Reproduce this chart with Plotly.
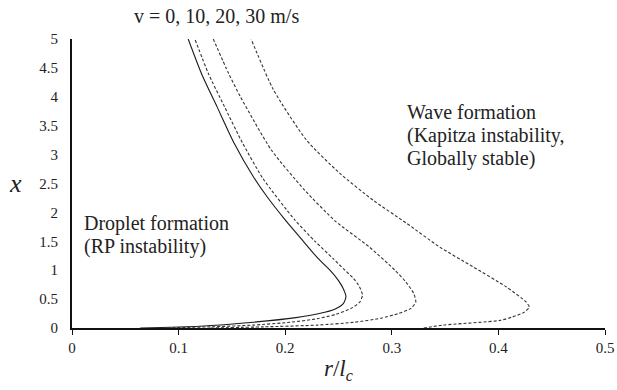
import plotly.graph_objects as go

# v = 0 m/s (solid)
r_v0 = [0.064, 0.12, 0.17, 0.210, 0.232, 0.247, 0.2545, 0.257, 0.2545, 0.250, 0.242, 0.231, 0.217, 0.200, 0.183, 0.170, 0.152, 0.136, 0.1215, 0.109]
x_v0 = [0.0, 0.03, 0.10, 0.18, 0.25, 0.33, 0.42, 0.54, 0.68, 0.82, 1.0, 1.2, 1.5, 1.87, 2.27, 2.62, 3.2, 3.83, 4.4, 5.0]
# v = 10 m/s
r_v10 = [0.08, 0.13, 0.17, 0.205, 0.23, 0.248, 0.262, 0.270, 0.2725, 0.2695, 0.264, 0.256, 0.245, 0.228, 0.209, 0.179, 0.160, 0.143, 0.128, 0.1153]
x_v10 = [0.0, 0.02, 0.05, 0.10, 0.16, 0.24, 0.34, 0.45, 0.57, 0.72, 0.86, 1.0, 1.2, 1.5, 1.87, 2.59, 3.2, 3.83, 4.4, 5.0]
# v = 20 m/s
r_v20 = [0.13, 0.18, 0.23, 0.265, 0.29, 0.306, 0.318, 0.3225, 0.3205, 0.313, 0.303, 0.279, 0.247, 0.218, 0.187, 0.158, 0.147, 0.1325]
x_v20 = [0.0, 0.02, 0.05, 0.10, 0.17, 0.25, 0.34, 0.45, 0.60, 0.80, 1.0, 1.40, 1.85, 2.39, 3.08, 4.0, 4.4, 5.0]
# v = 30 m/s
r_v30 = [0.33, 0.348, 0.401, 0.413, 0.424, 0.429, 0.426, 0.4075, 0.376, 0.345, 0.314, 0.2825, 0.251, 0.220, 0.189, 0.168]
x_v30 = [0.0, 0.05, 0.13, 0.19, 0.27, 0.36, 0.45, 0.71, 1.06, 1.40, 1.81, 2.21, 2.68, 3.25, 4.12, 5.0]

x_ticks = [0, 0.1, 0.2, 0.3, 0.4, 0.5]
y_ticks = [0, 0.5, 1, 1.5, 2, 2.5, 3, 3.5, 4, 4.5, 5]

title_text = "v = 0, 10, 20, 30 m/s"
wave_lines = ["Wave formation", "(Kapitza instability,", "Globally stable)"]
drop_lines = ["Droplet formation", "(RP instability)"]

serif = "Liberation Serif, Times New Roman, serif"
ink = "#222"

# plot area in screenshot pixels
L, R, T, B = 72, 605, 39, 328
W, H = 617, 390

def px(xp):
    return (xp - L) / (R - L)

def py(yp):
    return (B - yp) / (B - T)

fig = go.Figure()
series = [(r_v0, x_v0, "solid", "#1a1a1a"), (r_v10, x_v10, "3px,2px", "#333"),
          (r_v20, x_v20, "3px,2px", "#333"), (r_v30, x_v30, "3px,2px", "#333")]
for r, x, dash, col in series:
    fig.add_trace(go.Scatter(x=r, y=x, mode="lines",
                             line=dict(color=col, width=1.1, dash=dash, shape="spline", smoothing=0.6),
                             showlegend=False, hoverinfo="skip"))

annotations = [
    dict(text=title_text, x=px(216), y=py(16), xref="paper", yref="paper", showarrow=False,
         font=dict(family=serif, size=20, color=ink), xanchor="center", yanchor="middle"),
    dict(text="<i>x</i>", x=px(16), y=py(183), xref="paper", yref="paper", showarrow=False,
         font=dict(family=serif, size=26, color=ink), xanchor="center", yanchor="middle"),
    dict(text="<i>r</i>/<i>l<sub>c</sub></i>", x=px(338), y=py(370), xref="paper", yref="paper", showarrow=False,
         font=dict(family=serif, size=23, color=ink), xanchor="center", yanchor="middle"),
]
for i, t in enumerate(wave_lines):
    annotations.append(dict(text=t, x=px(405), y=py(112 + 23 * i), xref="paper", yref="paper",
                            showarrow=False, xanchor="left", yanchor="middle",
                            font=dict(family=serif, size=20, color=ink)))
for i, t in enumerate(drop_lines):
    annotations.append(dict(text=t, x=px(82), y=py(223 + 23 * i), xref="paper", yref="paper",
                            showarrow=False, xanchor="left", yanchor="middle",
                            font=dict(family=serif, size=20, color=ink)))

fig.update_layout(
    width=W, height=H,
    margin=dict(l=L, r=W - R, t=T, b=H - B),
    paper_bgcolor="white", plot_bgcolor="white",
    font=dict(family=serif, size=15, color=ink),
    xaxis=dict(range=[0, 0.5], tickvals=x_ticks, ticktext=[str(v) for v in x_ticks],
               showgrid=False, zeroline=False, showline=True, linecolor="#111", linewidth=2,
               ticks="outside", ticklen=5, tickcolor="#111", tickwidth=1, automargin=False,
               tickfont=dict(family=serif, size=15, color=ink)),
    yaxis=dict(range=[0, 5], tickvals=y_ticks, ticktext=[str(v) for v in y_ticks],
               showgrid=False, zeroline=False, showline=True, linecolor="#111", linewidth=2,
               ticks="", ticklabelstandoff=9, automargin=False,
               tickfont=dict(family=serif, size=15, color=ink)),
    annotations=annotations,
)
fig.write_html("out.html", config={"displayModeBar": False},
               post_script="document.body.style.margin='0';document.body.style.overflow='hidden';")
